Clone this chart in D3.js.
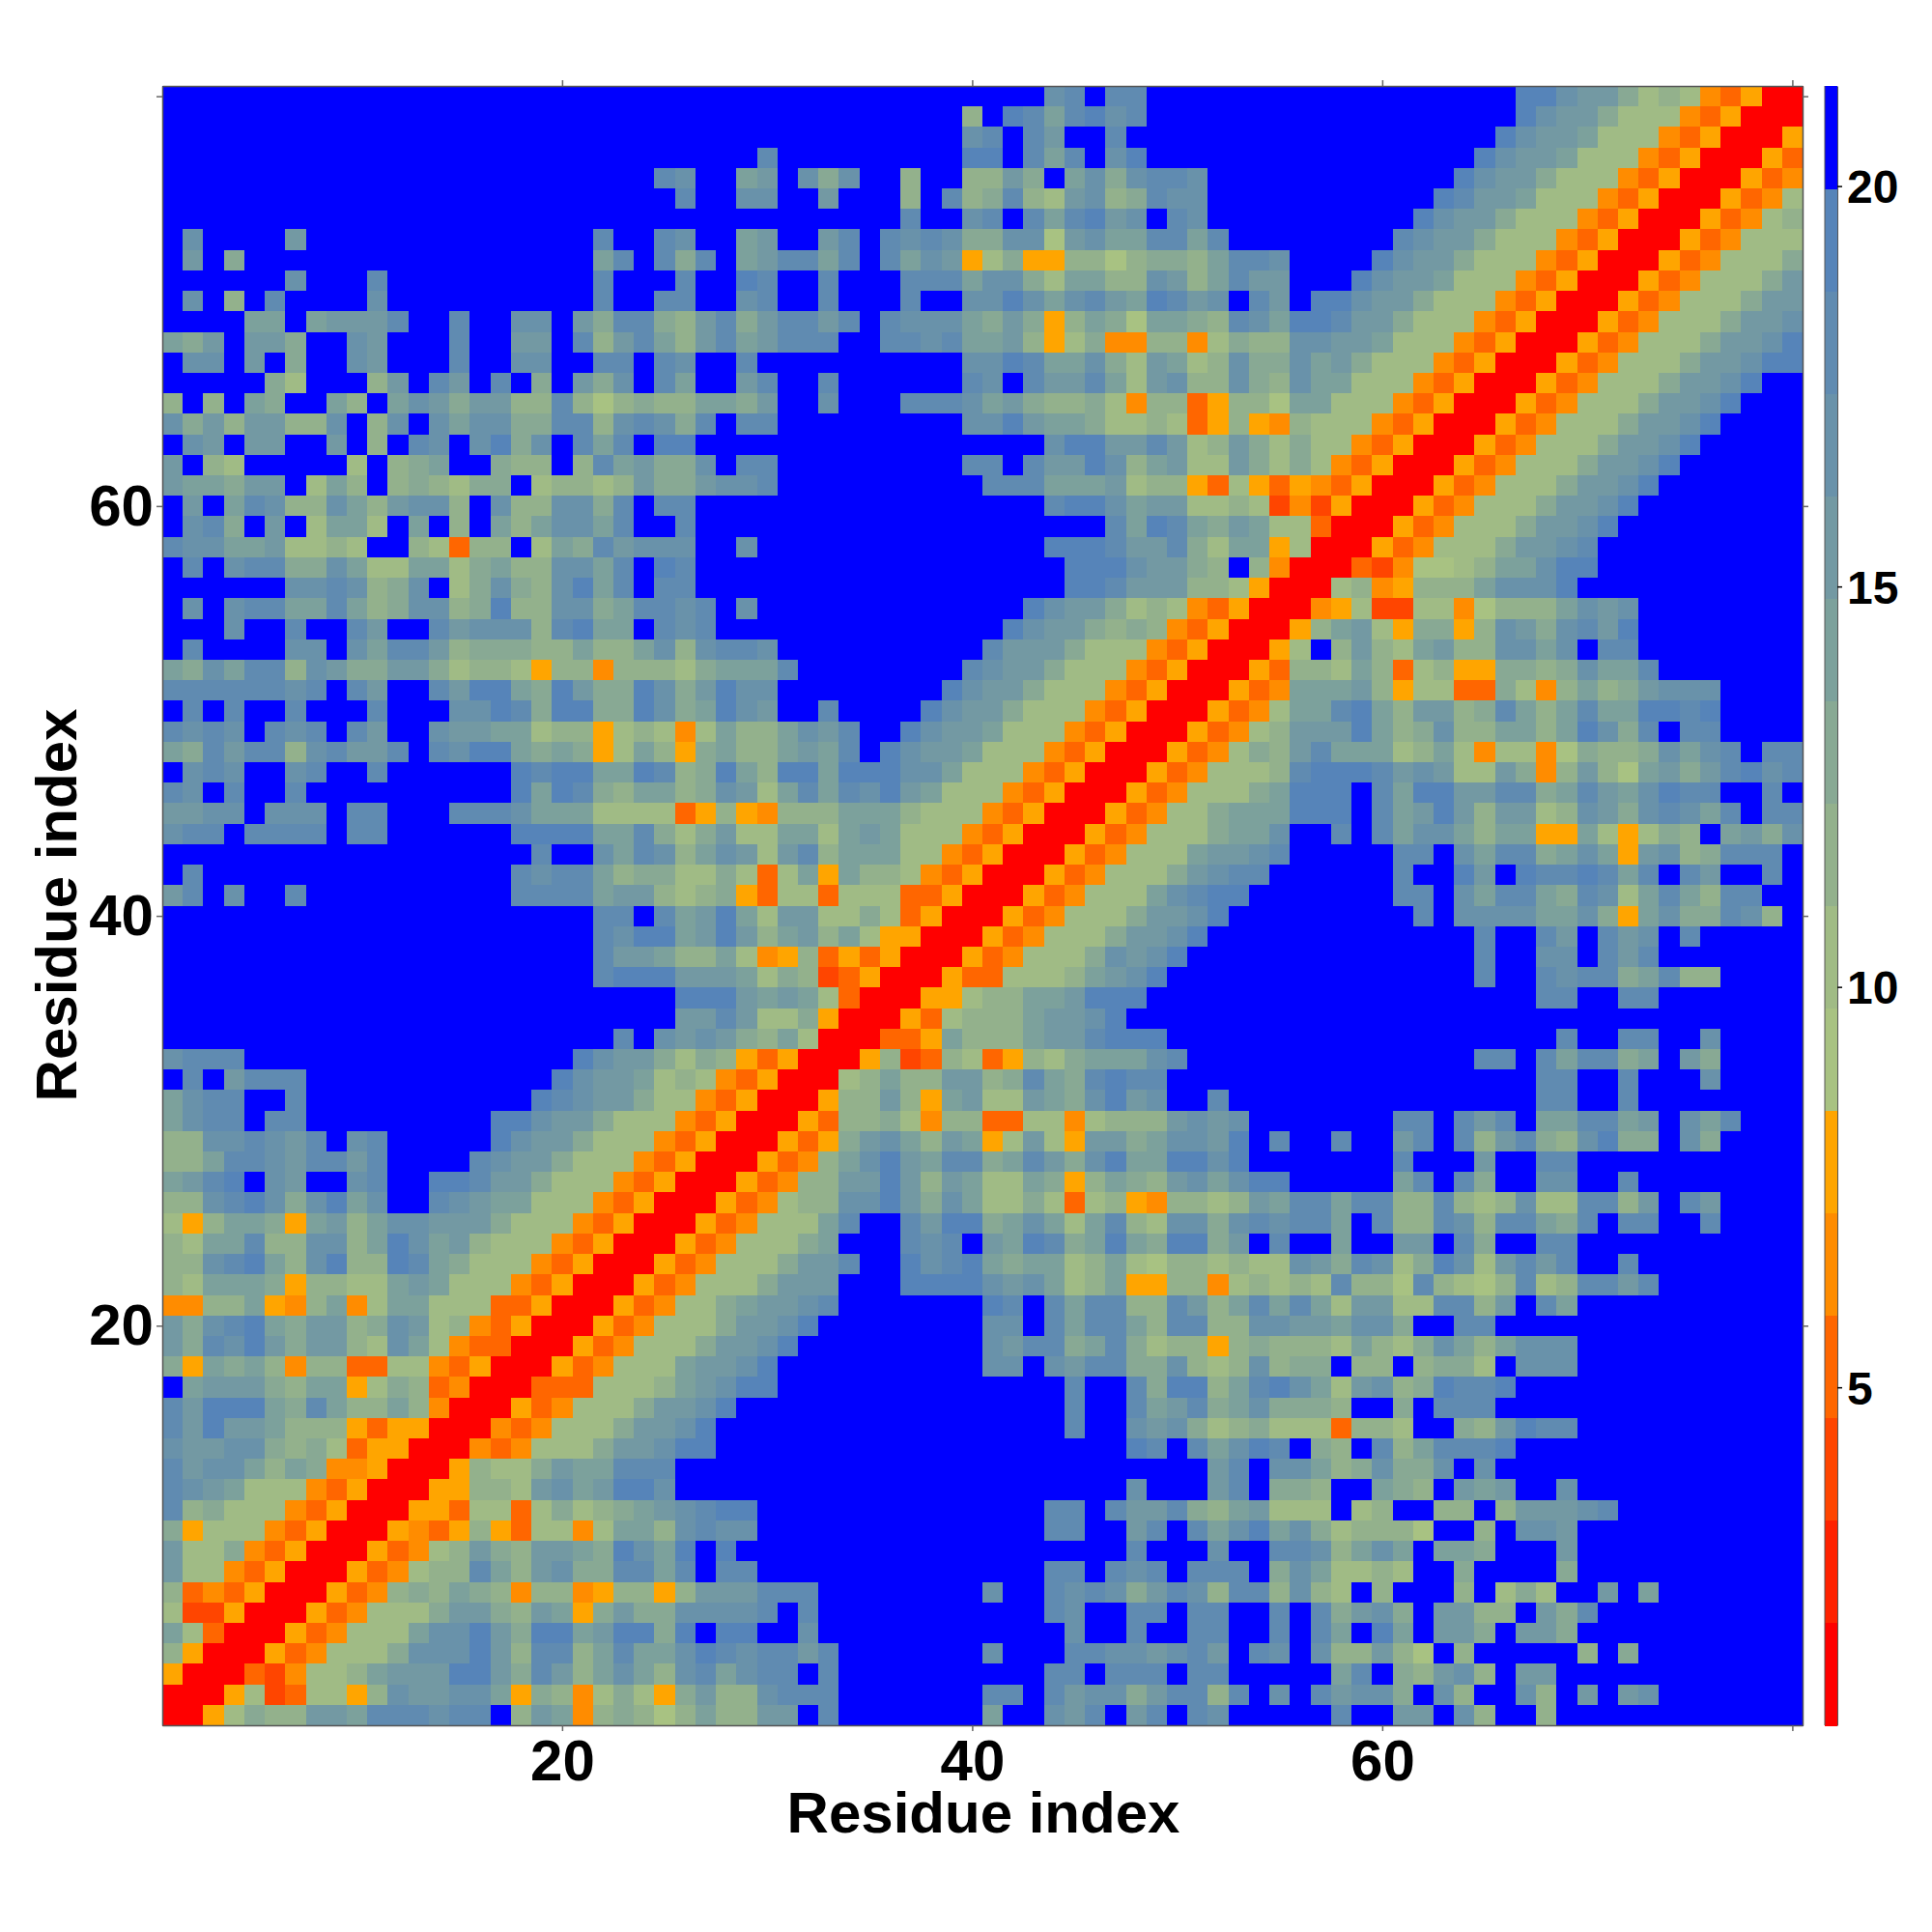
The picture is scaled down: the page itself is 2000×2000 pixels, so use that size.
<!DOCTYPE html>
<html>
<head>
<meta charset="utf-8">
<style>
html,body{margin:0;padding:0;background:#fff}
text{font-family:"Liberation Sans",Arial,sans-serif;font-weight:bold;fill:#000}
</style>
<script src="https://cdn.jsdelivr.net/npm/d3@7/dist/d3.min.js"></script>
</head>
<body>
<svg id="c" width="2000" height="2000"></svg>
<script>
// Colour bins of the bar, lowest distance first
const binColors = ["#ff0000","#ff2200","#ff4500","#ff6600","#ff8c00","#ffa500",
  "#a8c282","#a0bb85","#93b18c","#88a994","#7ca19c","#7399a3","#6992aa","#608bb1","#5684b9","#0000ff"];
const barMin = 0.78, barMax = 21.25;
const residues = d3.range(1, 81);
const axisTicks = [20, 40, 60, 80];
const labelledTicks = [20, 40, 60];
const barTicks = [5, 10, 15, 20];
const axisTitle = "Residue index";
// One string per residue, from residue 80 at the top down to residue 1; each hex digit is the bin of one cell.
const binRows = [
"ffffffffff ffffffffff ffffffffff ffffffffff fffcdfddff ffffffffff ffffffeecb b978743500",
"ffffffffff ffffffffff ffffffffff fffffffff8 fedadecdff ffffffffff ffffffecbb 9777435000",
"ffffffffff ffffffffff ffffffffff fffffffffc dfdbffdfff ffffffffff fffffecbba 7774350005",
"ffffffffff ffffffffff fffffffffd fffffffffe efdadfceff ffffffffff ffffecbba7 7743500053",
"ffffffffff ffffffffff ffffdcffab fc9cff8ff8 8b9fac9cdd cfffffffff fffecbb977 7435000534",
"ffffffffff ffffffffff fffffdffcc ffbfff8fd8 9d87bc89dc cfffffffff ffedbba777 4350005347",
"ffffffffff ffffffffff ffffffffff ffffffdffc dfdadebcfd cfffffffff fecbb97774 3500053478",
"fcffffbfff ffffffffff fdffdcffab ffbdfdcdc9 9cc6bcaadd adffffffff dcbb977743 5000534777",
"fbf9ffffff ffffffffff fadfd9dfab ddadfdacb5 7955886899 8addcffffe cbb9777435 0005347779",
"ffffffcfff dfffffffff fdfffdffed ffdfffddda cc97aa88cb 8adbbfffec bba7774350 005347779b",
"fcf8fdffff cfffffffff fdffddffcd ffdfffdffc cecacdbaed bcfdbfeecb b977743500 05347779bb",
"ffffaafabb bdffdffccf b9dd98bd9b ddbdfdccca 9b958a96aa 98dcaeedbb 9777435000 5347779bbc",
"a9bfbb9ffc bfffdffbbf d8bda8bdab dddffddcda ab85794488 47988ccbba 7774350005 347779bbce",
"fccfbf9ffc bfffdffccf fddfdcffdf fffffffffc cedaac97ba 78c99cab97 7743500053 47779bbcee",
"fffff97fff 8bfdbfdf9f b9cfdaffbd ffdffffffd cfdbbda7bc 88c98caa77 7435000534 7779bbceff",
"8f8fa9ffa8 facb9bb88d 868988aa9b ffcfffdddc ab98897488 35886aa777 4350005347 779bbcefff",
"c9b8bb88cf 8cfcacc99d d8cdc9dfdd fffffffffc cebaa97787 3585487774 3500053477 79bbceffff",
"fcbfbbffbf 8fdcfce9cf dadfeeffff ffffffffff fffceebbdb 78b9797743 5000534777 9bbcefffff",
"bf87fffff7 f89aff988f 8dab99cfdd fffffffffd dfdbbec8ab 77b9797435 0005347779 bbceffffff",
"baa9bbf7a8 f898799f78 878b99bccd ffffffffff dddaaab788 5375354350 005347779b bcefffffff",
"fbfadc88ca 8bcc8fc88c c9dfddffff ffffffffff fffdeecabb 7787242500 05347779bb ceffffffff",
"fcd9fbf7aa 7faf8fa8ac cadffdffff ffffffffff ffffffdaed a9ba773000 5347779bbc efffffffff",
"dccaab7787 ff87388f7a 9dbcccffcf ffffffffff fffeeedbbd 97aa570005 347779bbcd ffffffffff",
"fdfcdd99ca 77aa79a88c cadfedffff ffffffffff ffffeeecbb 98f8400032 46678aacee ffffffffff",
"ffffffccdc 89cf79c98c eadfddffff ffffffffff ffffeedbbb 8875000784 5888acccef ffffffffff",
"fcfcddaada 89cc89e88c c9addcdfcf ffffffffff ffecbb9787 4350004572 27746888ac bcffffffff",
"fffcffdffd bffdbccc8d eaafdcdfff ffffffffff fecbb98984 3500058ab7 59958cb9cd beffffffff",
"fdffffccfc addb899988 a88ac8cddc ffffffffff dbbb977743 500057f8b8 7ab88ccacf ddffffffff",
"a9cadd8cb9 9bb9788758 8488879aaa dffffffffd cbb9777435 00053887a8 378559989c aadfffffff",
"ddddddcdfd bffdbeea9e b99ec9becc ffffffffec bb97774350 00534aaab8 577339748a 89bcccffff",
"fdfdffdfff dfffcced9e e99ec9aecb ffdffffecb b977743500 05347aadea 8bb89da8ad aaeedeffff",
"dcdcfdcdfd bffcbbaa78 8578747a88 acbdffecbb a777435000 53478bbbea 89c88aa8ae c9dfddffff",
"a9dbdd8cdb bdfdceea9a 957a859a88 abadfecbba 7774350005 34798bdaaa 78a7477469 889cacdfdd",
"fcdcffcdff dffffffede eaaed89ea8 eeaeeecca7 7743500053 47778deeed bcb77b948b 86ab9bdecd",
"dcfdffdfff fffffffeae d98aa89cb7 adadceba77 7435000534 7779aeeefd aeebbdd9ad baceddffdf",
"bbccfcccfd dfffdddcaa a777735854 888aaa8777 4350005347 79aaaeeefd abeb8bb78c b9cdcadfdd",
"cddfddddfd dffffffeee eaad979b77 aa7aba7774 3500053477 79aacffdfd acca8aa55a 75798fab9c",
"ffffffffff ffffffffdf fcadc8acb7 bd8aaa7743 5000534777 abbcdfffff ddfcadd9ac a5bc89dddf",
"fdffffffff fffffffdcd da89977973 7a5a887435 0005347779 bcddffffff dffebfedde dadfdbffdf",
"bdfcffdfff fffffffddd dabb878953 7737773350 00534777ac deefffffff ddfcadda9d c7ada8ddff",
"ffffffffff ffffffffff fddfdabea7 bb77973500 05347779bb ceffffffff fdfccccaac 95ac99dc8f",
"ffffffffff ffffffffff fdceeabeb8 ab8a755000 5347779bbc efffffffff ffffdffdbf dbcfdfffff",
"ffffffffff ffffffffff fdbba88a74 5835350005 347779cbce ffffffffff ffffdffccf dbdfffffff",
"ffffffffff ffffffffff fdeeebbba7 9823500053 37778abcef ffffffffff ffffdffdcd d9ad88ffff",
"ffffffffff ffffffffff fffffeeeba ba73000557 88aabeeeff ffffffffff fffffffddf fddfffffff",
"ffffffffff ffffffffff fffffbbdb7 7950005378 88abbcefff ffffffffff ffffffffff ffffffffff",
"ffffffffff ffffffffff ffdfcbcb98 a7000335a8 88abbdeeef ffffffffff ffffffffdf fddffcffff",
"cdddffffff ffffffffff ecbb979853 5000582387 35879aaacd ffffffffff ffffddfdad d9afb9ffff",
"fdfbdddfff fffffffffe cbba787435 00078a88bb 89da9deddf ffffffffff fffffffddf fdfffcffff",
"acddffdfff ffffffffed cbb9774350 00588b85ab 77ba9cebcf fdffffffff fffffffddf fdffffffff",
"acddfddfff ffffffeecb b977743500 0538897488 337747888b cbcfffffff ddfdbdfaad dabfcadfff",
"88ccdcbdfc dfffffecbb 9777435000 5359bca8ba 57b75bb9ac cbefdffdff bdfd8bd98c e99fc9ffff",
"88addcbddb dffffdcbb9 7774350005 348acebadd 9adb9ceaae ecefffffff dfffbffddf ffffffffff",
"abdefcbffc dffeedbb97 7743500053 488bbeb8ba 77a958a98b caceefffff adfd9ffccf fdffffffff",
"88cdec9cea cffdcbaa77 7435000534 788cceb9ca 7797378548 878baddadd 88d878c77d d8bfdbffff",
"758aa95ab8 accbbb9777 4350005347 77adffdbee 9aca7ad87c c9cdcddafd 88dc8dda9d fddffdffff",
"87aad88cc8 aecab87774 3500053477 79afffdcdf baed9aea9e e9bfdffaff bbfd9ffddf ffffffffff",
"88cdea8ce8 8eda977743 5000534777 9bbdffecde a9aa78a768 87877cb9dc 79ec7bdbdf fdffffffff",
"87aaa95887 7aba777435 0005347779 bbbfffeeee cbca78a558 8478787d88 6d8768d78d dbdfffffff",
"4488a548a4 7aa7773350 00534779ab bcdfffffff edfdadd88d b8adada7bb 77dd8bfdaf ffffffffff",
"b9cdea9bb8 9cb7843500 05347779bb ceffffffff ccfdadda8d d88ccbbacc 9ffddfffff ffffffffff",
"b9dceb9bb8 7ca7433000 5347779bbc efffffffff cbdd9ad978 85898887a8 79ca8acccf ffffffffff",
"95a9a84883 3774350005 34777abbce ffffffffff ccfcbdd99c 878c899f88 f8997fcccf ffffffffff",
"fabbb98aa5 7983400033 37778abcee ffffffffff ffffdffd9e e8adeca7bc 89eddeffff ffffffffff",
"dbeeea9da8 8a84000534 7779bbceff ffffffffff ffffdffdab d9ac9998ff 9fdddfffff ffffffffff",
"dbebba8885 3550004347 779bbcefff ffffffffff ffffdffcbc 9789777388 7ff98beddf ffffffffff",
"cbbcc98973 5500043477 79bbceefff ffffffffff fffffffedf dacedf98fd 8adddeffff ffffffffff",
"dbcca8a944 500058779b aadddfffff ffffffffff ffffffffff fbdfcca89c 99cfcfffff ffffffffff",
"dcba777435 00055887bc abeecfffff ffffffffff fffffffcff fbdf998ffa 98fbabffcf ffffffffff",
"d897774350 0055377379 789abcdeef ffffffffff fffddfdbbd 98ab777f78 ff88f8bbbc dfffffffff",
"9577743500 0543585377 47aa8cdccf ffffffffff fffddffbdf daceac9788 86ff8fccbf ffffffffff",
"b779435000 53478b98bb a9ecaefeff ffffffffff fffffffdff fcffddc8ac afaa9fffbf ffffffffff",
"b774350005 34788da8bc 99ddadfddf ffffffffff fffddfdcdf dddf9ca778 7ff9ffff9f ffffffffff",
"8343500053 4898a98488 458858bbbd ddffffffff cffdcdc9bd c8dd8c87f8 fff8f797ff bfafffffff",
"7225000534 7779bb98ba 59b99ccccd fdffffffff fffdcffddf ddffdfd9bc 9fbb88fb9d ffffffffff",
"a730005347 77acceb9ee abee9efeef fcffffffff ffffcffdff ddffdfdafe afbb9fbb9f ffffffffff",
"8500053477 79ccceb8dd 8adaacedcd dbdfffffff cfffddccbc dbfdcfc88b 86f8fffff8 f9ffffffff",
"5000324778 abbbeeb9db 8aca8cdacd dfdfffffff fffddfdddf ddfffffadf 98bc8fbbff ffffffffff",
"0005723775 8cbbcca598 479759b88c dddfffffff ddfdbcc9bd d8dfcfdbcc 9fc8ffc8fb fbcfffffff",
"0057988bba dddcddf8ba 489868a88b bfdfffffff affcbdfbdf dcfffffdff bbfc8ff8ff ffffffffff"
];

const plot = {left:168, right:1866, top:89, bottom:1786};
const bar  = {left:1889, right:1902};
const svg = d3.select("#c");

const x = d3.scaleLinear().domain([0.5, 80.5]).range([plot.left, plot.right]);
const y = d3.scaleLinear().domain([0.5, 80.5]).range([plot.bottom, plot.top]);
const step = (barMax - barMin) / binColors.length;
const color = d3.scaleQuantize().domain([barMin, barMax]).range(binColors);
const barY = d3.scaleLinear().domain([barMin, barMax]).range([plot.bottom, plot.top]);

const cells = [];
binRows.forEach((row, r) => {
  const digits = row.replace(/\s+/g, "");
  if (digits.length !== residues.length) console.error("row", r, digits.length);
  digits.split("").forEach((ch, c) => {
    cells.push({col: residues[c], row: 80 - r, value: barMin + (parseInt(ch, 16) + 0.5) * step});
  });
});

svg.append("g").attr("shape-rendering", "crispEdges").selectAll("rect").data(cells).join("rect")
  .attr("x", d => x(d.col - 0.5))
  .attr("y", d => y(d.row + 0.5))
  .attr("width", d => x(d.col + 0.5) - x(d.col - 0.5) + 0.5)
  .attr("height", d => y(d.row - 0.5) - y(d.row + 0.5) + 0.5)
  .attr("fill", d => color(d.value));

// axes on all four sides, short outward ticks
function style(g) {
  g.selectAll(".domain").attr("stroke", "#555").attr("stroke-width", 1.5);
  g.selectAll(".tick line").attr("stroke", "#666").attr("stroke-width", 1.5);
  g.selectAll("text").attr("font-size", 60).attr("font-weight", "bold")
    .attr("font-family", '"Liberation Sans",Arial,sans-serif').attr("fill", "#000");
}
const fmt = d => labelledTicks.includes(d) ? d : "";
svg.append("g").attr("transform", `translate(0,${plot.bottom})`)
  .call(d3.axisBottom(x).tickValues(axisTicks).tickFormat(fmt).tickSize(6).tickSizeOuter(0).tickPadding(8))
  .call(style);
svg.append("g").attr("transform", `translate(0,${plot.top})`)
  .call(d3.axisTop(x).tickValues(axisTicks).tickFormat("").tickSize(6).tickSizeOuter(0)).call(style);
svg.append("g").attr("transform", `translate(${plot.left},0)`)
  .call(d3.axisLeft(y).tickValues(axisTicks).tickFormat(fmt).tickSize(6).tickSizeOuter(0).tickPadding(3))
  .call(style);
svg.append("g").attr("transform", `translate(${plot.right},0)`)
  .call(d3.axisRight(y).tickValues(axisTicks).tickFormat("").tickSize(6).tickSizeOuter(0)).call(style);

// colour bar
svg.append("g").attr("shape-rendering", "crispEdges").selectAll("rect").data(binColors).join("rect")
  .attr("x", bar.left).attr("width", bar.right - bar.left)
  .attr("y", (d, i) => barY(barMin + (i + 1) * step))
  .attr("height", (d, i) => barY(barMin + i * step) - barY(barMin + (i + 1) * step) + 0.5)
  .attr("fill", d => d);
svg.append("g").attr("transform", `translate(${bar.right},0)`)
  .call(d3.axisRight(barY).tickValues(barTicks).tickSize(5).tickSizeOuter(0).tickPadding(5))
  .call(g => {
    g.select(".domain").attr("stroke", "#555").attr("stroke-width", 1);
    g.selectAll(".tick line").attr("stroke", "#000").attr("stroke-width", 1.5);
    g.selectAll("text").attr("font-size", 48).attr("font-weight", "bold").attr("dy", "0.36em")
      .attr("font-family", '"Liberation Sans",Arial,sans-serif').attr("fill", "#000");
  });
svg.append("line").attr("x1", bar.left).attr("x2", bar.left).attr("y1", plot.top).attr("y2", plot.bottom)
  .attr("stroke", "#555").attr("stroke-width", 1);

// axis titles
svg.append("text").attr("x", 1018).attr("y", 1897).attr("text-anchor", "middle")
  .attr("font-size", 60).text(axisTitle);
svg.append("text").attr("transform", "translate(79,937) rotate(-90)").attr("text-anchor", "middle")
  .attr("font-size", 60).text(axisTitle);
</script>
</body>
</html>
